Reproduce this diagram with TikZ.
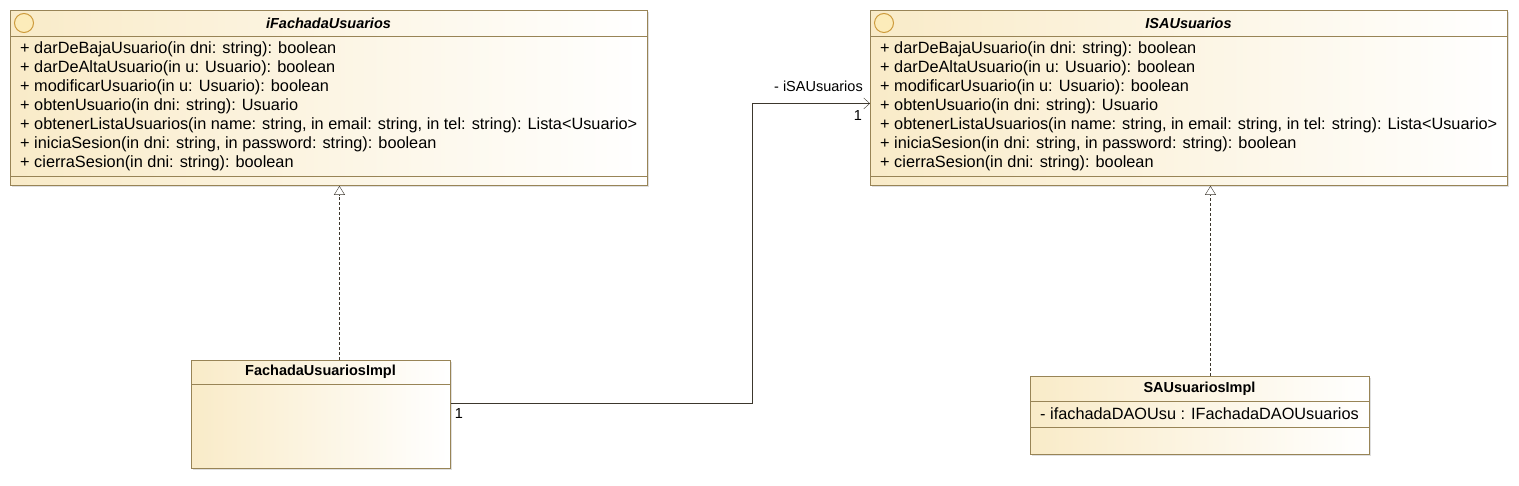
\documentclass[tikz,border=0pt]{standalone}
\usepackage{fontspec}
\setmainfont{Liberation Sans}
\usetikzlibrary{arrows.meta,shadows}

\definecolor{umlborde}{RGB}{152,132,86}
\definecolor{umlizq}{RGB}{249,235,200}
\definecolor{umlder}{RGB}{255,255,255}
\definecolor{umlcirculo}{RGB}{252,236,186}
\definecolor{umlaro}{RGB}{205,155,60}
\definecolor{umllinea}{RGB}{60,55,45}

\tikzset{
  clase/.style={draw=umlborde, left color=umlizq, right color=umlder,
    anchor=north west, inner sep=0pt, line width=0.9pt,
    drop shadow={shadow xshift=1.5pt, shadow yshift=-1.5pt, opacity=0.25, fill=gray}},
  titulo/.style={font=\fontsize{14.5}{17}\selectfont\bfseries, inner sep=0pt},
  miembro/.style={font=\fontsize{16.3}{19}\selectfont, anchor=west, inner sep=0pt},
  etiqueta/.style={font=\fontsize{14.5}{17}\selectfont, inner sep=0pt},
  realiza/.style={draw=umllinea, dash pattern=on 3pt off 2pt,
    -{Triangle[open,length=9pt,width=11pt,fill=white]}},
  asocia/.style={draw=umllinea, -{Straight Barb[length=6pt,width=11pt]}}
}

\newcommand\metodos{%
  {+ darDeBajaUsuario(in dni: string): boolean},
  {+ darDeAltaUsuario(in u: Usuario): boolean},
  {+ modificarUsuario(in u: Usuario): boolean},
  {+ obtenUsuario(in dni: string): Usuario},
  {+ obtenerListaUsuarios(in name: string, in email: string, in tel: string): Lista<Usuario>},
  {+ iniciaSesion(in dni: string, in password: string): boolean},
  {+ cierraSesion(in dni: string): boolean}}

\begin{document}
\begin{tikzpicture}[x=1pt,y=-1pt]
  \useasboundingbox (0,0) rectangle (1519,486);

  % interfaces
  \node[clase, minimum width=637pt, minimum height=175pt] (fachada) at (10,10) {};
  \node[clase, minimum width=637pt, minimum height=175pt] (saInterfaz) at (870,10) {};
  \foreach \x in {10,870} {
    \draw[umlborde, line width=0.9pt] (\x,36) -- ++(637,0);
    \draw[umlborde, line width=0.9pt] (\x,176) -- ++(637,0);
    \draw[umlaro, line width=1pt, fill=umlcirculo] (\x+14,23) circle (9.5);
    \foreach \m [count=\i] in \metodos
      \node[miembro] at (\x+10,30.5+19*\i) {\m};
  }
  \node[titulo, font=\fontsize{14.5}{17}\selectfont\bfseries\itshape] (tFachada) at (328.5,23) {iFachadaUsuarios};
  \node[titulo, font=\fontsize{14.5}{17}\selectfont\bfseries\itshape] (tSA) at (1188.5,23) {ISAUsuarios};

  % implementaciones
  \node[clase, minimum width=259pt, minimum height=108pt] (fachadaImpl) at (191,360) {};
  \draw[umlborde, line width=0.9pt] (191,384) -- ++(259,0);
  \node[titulo] (tFachadaImpl) at (320.5,372) {FachadaUsuariosImpl};

  \node[clase, minimum width=339pt, minimum height=78pt] (saImpl) at (1030,376) {};
  \draw[umlborde, line width=0.9pt] (1030,401) -- ++(339,0);
  \draw[umlborde, line width=0.9pt] (1030,427) -- ++(339,0);
  \node[titulo] (tSAImpl) at (1199.5,388.5) {SAUsuariosImpl};
  \node[miembro] (atrib) at (1040,414) {- ifachadaDAOUsu : IFachadaDAOUsuarios};

  % relaciones
  \draw[realiza] ([xshift=18.5pt]fachadaImpl.north) -- ([xshift=10.5pt]fachada.south);
  \draw[realiza] ([xshift=10.5pt]saImpl.north) -- ([xshift=21.5pt]saInterfaz.south);
  \draw[asocia] ([yshift=11pt]fachadaImpl.east) -- ++(301,0)
    |- ([yshift=-5.5pt]saInterfaz.west);
  \node[etiqueta, anchor=east] (rol) at (863,86) {- iSAUsuarios};
  \node[etiqueta] (multB) at (858,116) {1};
  \node[etiqueta] (multA) at (459,414) {1};
\end{tikzpicture}
\end{document}
